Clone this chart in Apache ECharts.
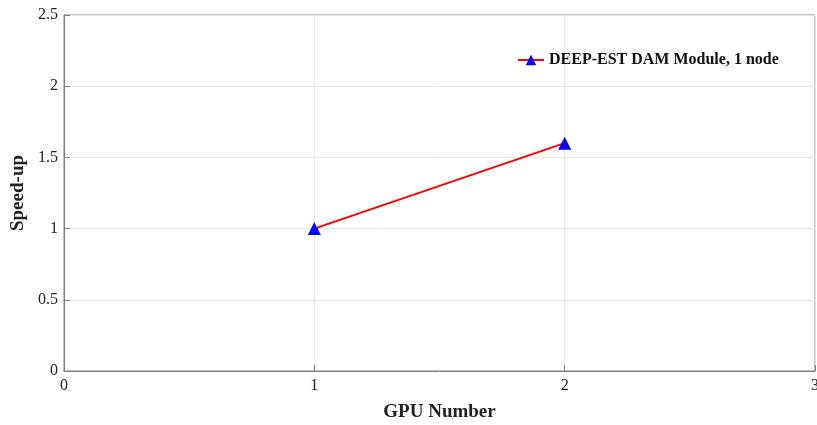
<!DOCTYPE html>
<html><head><meta charset="utf-8">
<script src="https://cdn.jsdelivr.net/npm/echarts@6/dist/echarts.min.js"></script>
<style>html,body{margin:0;padding:0;background:#fff}#c{width:817px;height:425px}</style>
</head><body><div id="c"></div>
<script>
const gpuNumbers = [1, 2];
const speedup = [1.0, 1.60];
const seriesName = 'DEEP-EST DAM Module, 1 node';
const xTitle = 'GPU Number';
const yTitle = 'Speed-up';
const font = '"Liberation Serif", "DejaVu Serif", serif';

const chart = echarts.init(document.getElementById('c'));
chart.setOption({
  animation: false,
  backgroundColor: '#fff',
  grid: {left: 64, right: 2, top: 15, bottom: 54, show: true, borderColor: '#808080', borderWidth: 1, containLabel: false, outerBoundsMode: 'none'},
  legend: {
    data: [seriesName], left: 512, top: 47, itemWidth: 26, itemHeight: 13, itemGap: 4,
    textStyle: {fontFamily: font, fontSize: 16, fontWeight: 'bold', color: '#111'}
  },
  xAxis: {
    type: 'value', min: 0, max: 3, interval: 1,
    name: xTitle, nameLocation: 'middle', nameGap: 32,
    nameTextStyle: {fontFamily: font, fontSize: 19, fontWeight: 'bold', color: '#222'},
    axisLine: {show: true, lineStyle: {color: '#808080'}},
    axisTick: {show: true, inside: true, length: 6, lineStyle: {color: '#808080'}},
    axisLabel: {fontFamily: font, fontSize: 16, color: '#222', margin: 7},
    splitLine: {show: true, lineStyle: {color: '#e6e6e6'}}
  },
  yAxis: {
    type: 'value', min: 0, max: 2.5, interval: 0.5,
    name: yTitle, nameLocation: 'middle', nameGap: 32, nameRotate: 90,
    nameTextStyle: {fontFamily: font, fontSize: 19, fontWeight: 'bold', color: '#222'},
    axisLine: {show: true, lineStyle: {color: '#808080'}},
    axisTick: {show: true, inside: true, length: 6, lineStyle: {color: '#808080'}},
    axisLabel: {fontFamily: font, fontSize: 16, color: '#222', margin: 6},
    splitLine: {show: true, lineStyle: {color: '#e6e6e6'}}
  },
  series: [{
    name: seriesName, type: 'line',
    data: gpuNumbers.map((g, i) => [g, speedup[i]]),
    lineStyle: {color: '#ff0000', width: 2},
    itemStyle: {color: '#0000ff'},
    symbol: 'triangle', symbolSize: 13, showSymbol: true
  }]
});
</script></body></html>
